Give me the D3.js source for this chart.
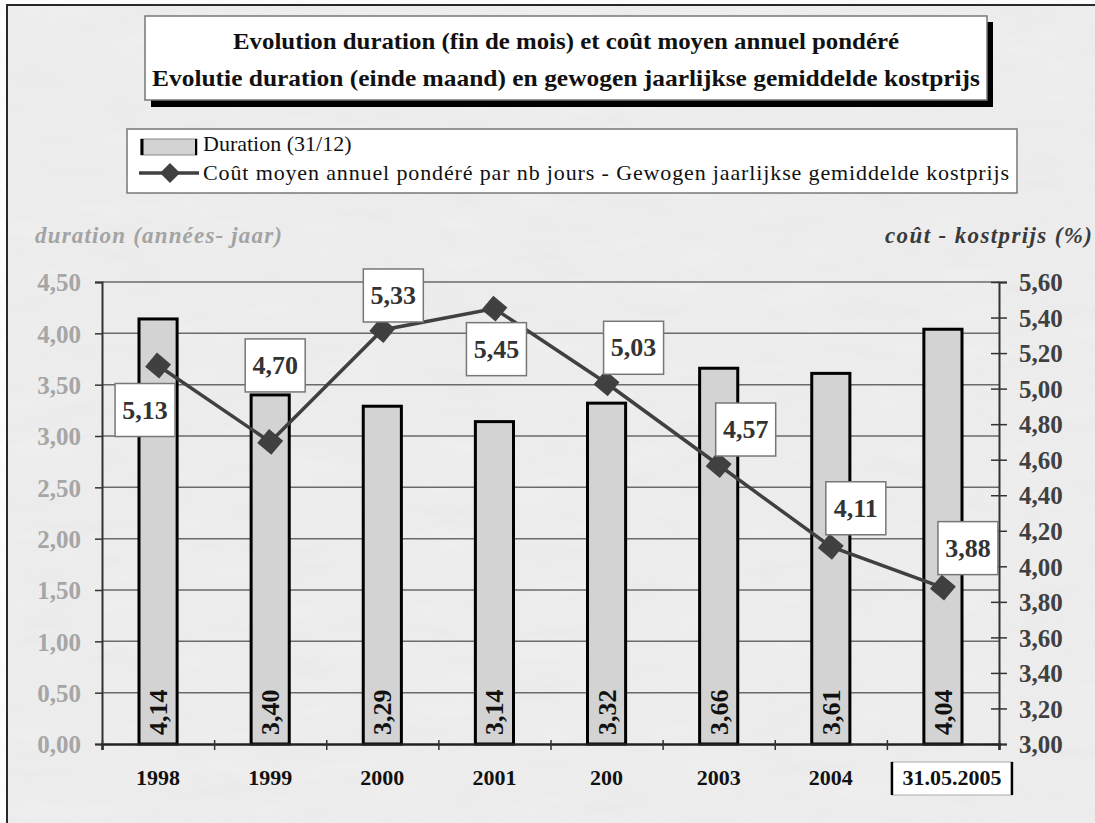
<!DOCTYPE html>
<html>
<head>
<meta charset="utf-8">
<script src="https://cdn.jsdelivr.net/npm/d3@7"></script>
<style>
  body { margin: 0; background: #fff; }
  svg { display: block; }
  text { font-family: "Liberation Serif", "Times New Roman", serif; }
</style>
</head>
<body>
<svg id="chart" width="1095" height="823"></svg>
<script>
// data
var categories = ["1998", "1999", "2000", "2001", "200", "2003", "2004", "31.05.2005"];
var duration = [4.14, 3.40, 3.29, 3.14, 3.32, 3.66, 3.61, 4.04];
var cost = [5.13, 4.70, 5.33, 5.45, 5.03, 4.57, 4.11, 3.88];
var leftTicks = [0, 0.5, 1, 1.5, 2, 2.5, 3, 3.5, 4, 4.5];
var rightTicks = [3.0, 3.2, 3.4, 3.6, 3.8, 4.0, 4.2, 4.4, 4.6, 4.8, 5.0, 5.2, 5.4, 5.6];
// where each cost label box sits relative to its point (dx, dy of box centre)
var labelPos = [[-13, 44], [5, -77], [11, -35], [2, 40], [27, -36], [27, -36], [25, -39], [25, -40]];

var titleLines = ["Evolution duration (fin de mois) et coût moyen annuel pondéré",
                  "Evolutie duration (einde maand) en gewogen jaarlijkse gemiddelde kostprijs"];
var titleWidths = [666, 828];
var legendLabels = ["Duration (31/12)",
                    "Coût moyen annuel pondéré par nb jours - Gewogen jaarlijkse gemiddelde kostprijs"];

var svg = d3.select("#chart");
var fmt = function(v) { return d3.format(".2f")(v).replace(".", ","); };

// background + frame
var defs = svg.append("defs");
var f = defs.append("filter").attr("id", "tex");
f.append("feTurbulence").attr("type", "fractalNoise").attr("baseFrequency", "0.012 0.05").attr("numOctaves", 3).attr("seed", 4);
f.append("feColorMatrix").attr("type", "matrix")
  .attr("values", "0 0 0 0 0.5  0 0 0 0 0.5  0 0 0 0 0.5  0 0 0 0.12 0");

svg.append("rect").attr("x", 7).attr("y", 5).attr("width", 1100).attr("height", 830)
  .style("fill", "#efefef").style("stroke", "#222").style("stroke-width", 2);
svg.append("rect").attr("x", 8).attr("y", 6).attr("width", 1090).attr("height", 820)
  .attr("filter", "url(#tex)").style("opacity", 0.8);

// title box
svg.append("rect").attr("x", 151).attr("y", 22).attr("width", 842).attr("height", 85).style("fill", "#000");
svg.append("rect").attr("x", 145).attr("y", 16).attr("width", 842).attr("height", 84)
  .style("fill", "#fff").style("stroke", "#777").style("stroke-width", 1.5);
svg.selectAll(".title").data(titleLines).enter().append("text")
  .attr("x", 566).attr("y", function(d, i) { return 49 + i * 37; })
  .attr("text-anchor", "middle")
  .attr("textLength", function(d, i) { return titleWidths[i]; })
  .attr("lengthAdjust", "spacingAndGlyphs")
  .style("font-size", "24px").style("font-weight", "bold").style("fill", "#111")
  .text(function(d) { return d; });

// legend box
svg.append("rect").attr("x", 127).attr("y", 129).attr("width", 890).attr("height", 64)
  .style("fill", "#fff").style("stroke", "#777").style("stroke-width", 1.5);
svg.append("rect").attr("x", 141).attr("y", 139).attr("width", 56).attr("height", 16)
  .style("fill", "#d3d3d3").style("stroke", "#888").style("stroke-width", 1);
svg.append("line").attr("x1", 142).attr("x2", 142).attr("y1", 139).attr("y2", 155).style("stroke", "#000").style("stroke-width", 3);
svg.append("line").attr("x1", 196).attr("x2", 196).attr("y1", 139).attr("y2", 155).style("stroke", "#000").style("stroke-width", 2);
svg.append("line").attr("x1", 139).attr("x2", 199).attr("y1", 173).attr("y2", 173).style("stroke", "#404040").style("stroke-width", 3.5);
svg.append("path").attr("d", "M170,163L180,173L170,183L160,173Z").style("fill", "#404040");
svg.selectAll(".leg").data(legendLabels).enter().append("text")
  .attr("x", 203).attr("y", function(d, i) { return 151 + i * 29; })
  .attr("textLength", function(d, i) { return i === 1 ? 806 : null; })
  .attr("lengthAdjust", "spacing")
  .style("font-size", "22px").style("fill", "#111")
  .text(function(d) { return d; });

// axis titles
svg.append("text").attr("x", 35).attr("y", 243)
  .attr("textLength", 247).attr("lengthAdjust", "spacing")
  .style("font-size", "23px").style("font-weight", "bold").style("font-style", "italic").style("fill", "#a3a3a3")
  .text("duration (années- jaar)");
svg.append("text").attr("x", 885).attr("y", 243)
  .attr("textLength", 207).attr("lengthAdjust", "spacing")
  .style("font-size", "23px").style("font-weight", "bold").style("font-style", "italic").style("fill", "#3a3a3a")
  .text("coût - kostprijs (%)");

// scales
var x = d3.scaleBand().domain(categories).range([102, 999]);
var xi = d3.scaleLinear().domain([0, categories.length]).range([102, 999]);
var yL = d3.scaleLinear().domain([0, 4.5]).range([744, 282]);
var yR = d3.scaleLinear().domain([3, 5.6]).range([744, 282]);

// gridlines
svg.append("g").selectAll("line").data(leftTicks.slice(1)).enter().append("line")
  .attr("x1", 102).attr("x2", 999)
  .attr("y1", function(d) { return yL(d); }).attr("y2", function(d) { return yL(d); })
  .style("stroke", "#6a6a6a").style("stroke-width", 1.5);

// left axis
var gL = svg.append("g").attr("transform", "translate(102,0)")
  .call(d3.axisLeft(yL).tickValues(leftTicks).tickFormat(fmt).tickSize(7).tickPadding(14));
gL.select(".domain").style("stroke", "#333").style("stroke-width", 2);
gL.selectAll(".tick line").style("stroke", "#333").style("stroke-width", 1.5);
gL.selectAll(".tick text").style("font-family", "'Liberation Serif', serif").style("font-size", "25px")
  .style("font-weight", "bold").style("fill", "#a6a6a6").attr("dy", "0.35em");

// right axis
var gR = svg.append("g").attr("transform", "translate(999,0)")
  .call(d3.axisRight(yR).tickValues(rightTicks).tickFormat(fmt).tickSize(8).tickPadding(12));
gR.select(".domain").style("stroke", "#333").style("stroke-width", 2);
gR.selectAll(".tick line").attr("x1", -8).style("stroke", "#333").style("stroke-width", 1.5);
gR.selectAll(".tick text").style("font-family", "'Liberation Serif', serif").style("font-size", "25px")
  .style("font-weight", "bold").style("fill", "#404040").attr("dy", "0.35em");

// bars
var bw = x.bandwidth() * 0.34;
svg.append("g").selectAll("rect").data(duration).enter().append("rect")
  .attr("x", function(d, i) { return x(categories[i]) + (x.bandwidth() - bw) / 2; })
  .attr("y", function(d) { return yL(d); })
  .attr("width", bw)
  .attr("height", function(d) { return yL(0) - yL(d); })
  .style("fill", "#d3d3d3").style("stroke", "#000").style("stroke-width", 3);

// bar values, rotated
svg.append("g").selectAll("text").data(duration).enter().append("text")
  .attr("transform", function(d, i) {
    return "translate(" + (x(categories[i]) + x.bandwidth() / 2 + 9) + ",735) rotate(-90)";
  })
  .style("font-size", "26px").style("font-weight", "bold").style("fill", "#111")
  .text(function(d) { return fmt(d); });

// x axis line + boundary ticks
var gX = svg.append("g").attr("transform", "translate(0,744)")
  .call(d3.axisBottom(xi).ticks(categories.length).tickFormat("").tickSize(6));
gX.select(".domain").style("stroke", "#222").style("stroke-width", 2.5);
gX.selectAll(".tick line").attr("y1", -4).style("stroke", "#333").style("stroke-width", 1.5);

// category labels
var gC = svg.append("g").attr("transform", "translate(0,744)")
  .call(d3.axisBottom(x).tickSize(0).tickPadding(25));
gC.select(".domain").remove();
gC.selectAll(".tick text").style("font-family", "'Liberation Serif', serif").style("font-size", "22px")
  .style("font-weight", "bold").style("fill", "#111")
  .attr("dx", function(d, i) { return i === categories.length - 1 ? 9 : 0; });
// last label sits in a small box
var last = categories[categories.length - 1];
gC.selectAll(".tick").filter(function(d) { return d === last; })
  .insert("rect", "text")
  .attr("x", -51).attr("y", 18).attr("width", 120).attr("height", 33)
  .style("fill", "#fff").style("stroke", "#aaa").style("stroke-width", 1);
gC.selectAll(".tick").filter(function(d) { return d === last; }).each(function() {
  var t = d3.select(this);
  t.append("line").attr("x1", -51).attr("x2", -51).attr("y1", 18).attr("y2", 51).style("stroke", "#000").style("stroke-width", 2.5);
  t.append("line").attr("x1", 69).attr("x2", 69).attr("y1", 18).attr("y2", 51).style("stroke", "#000").style("stroke-width", 2.5);
});

// cost line
var cx = function(d, i) { return x(categories[i]) + x.bandwidth() / 2; };
var line = d3.line().x(cx).y(function(d) { return yR(d); });
svg.append("path").datum(cost).attr("d", line)
  .style("fill", "none").style("stroke", "#404040").style("stroke-width", 3.5);
svg.append("g").selectAll("path").data(cost).enter().append("path")
  .attr("transform", function(d, i) { return "translate(" + cx(d, i) + "," + yR(d) + ") rotate(-5)"; })
  .attr("d", "M0,-13L13,0L0,13L-13,0Z")
  .style("fill", "#404040");

// cost labels
var lab = svg.append("g").selectAll("g").data(cost).enter().append("g")
  .attr("transform", function(d, i) {
    return "translate(" + (cx(d, i) + labelPos[i][0]) + "," + (yR(d) + labelPos[i][1]) + ")";
  });
lab.append("rect").attr("x", -30).attr("y", -26).attr("width", 60).attr("height", 53)
  .style("fill", "#fff").style("stroke", "#777").style("stroke-width", 1.5);
lab.append("text").attr("text-anchor", "middle").attr("y", 9)
  .style("font-size", "26px").style("font-weight", "bold").style("fill", "#333")
  .text(function(d) { return fmt(d); });
</script>
</body>
</html>
